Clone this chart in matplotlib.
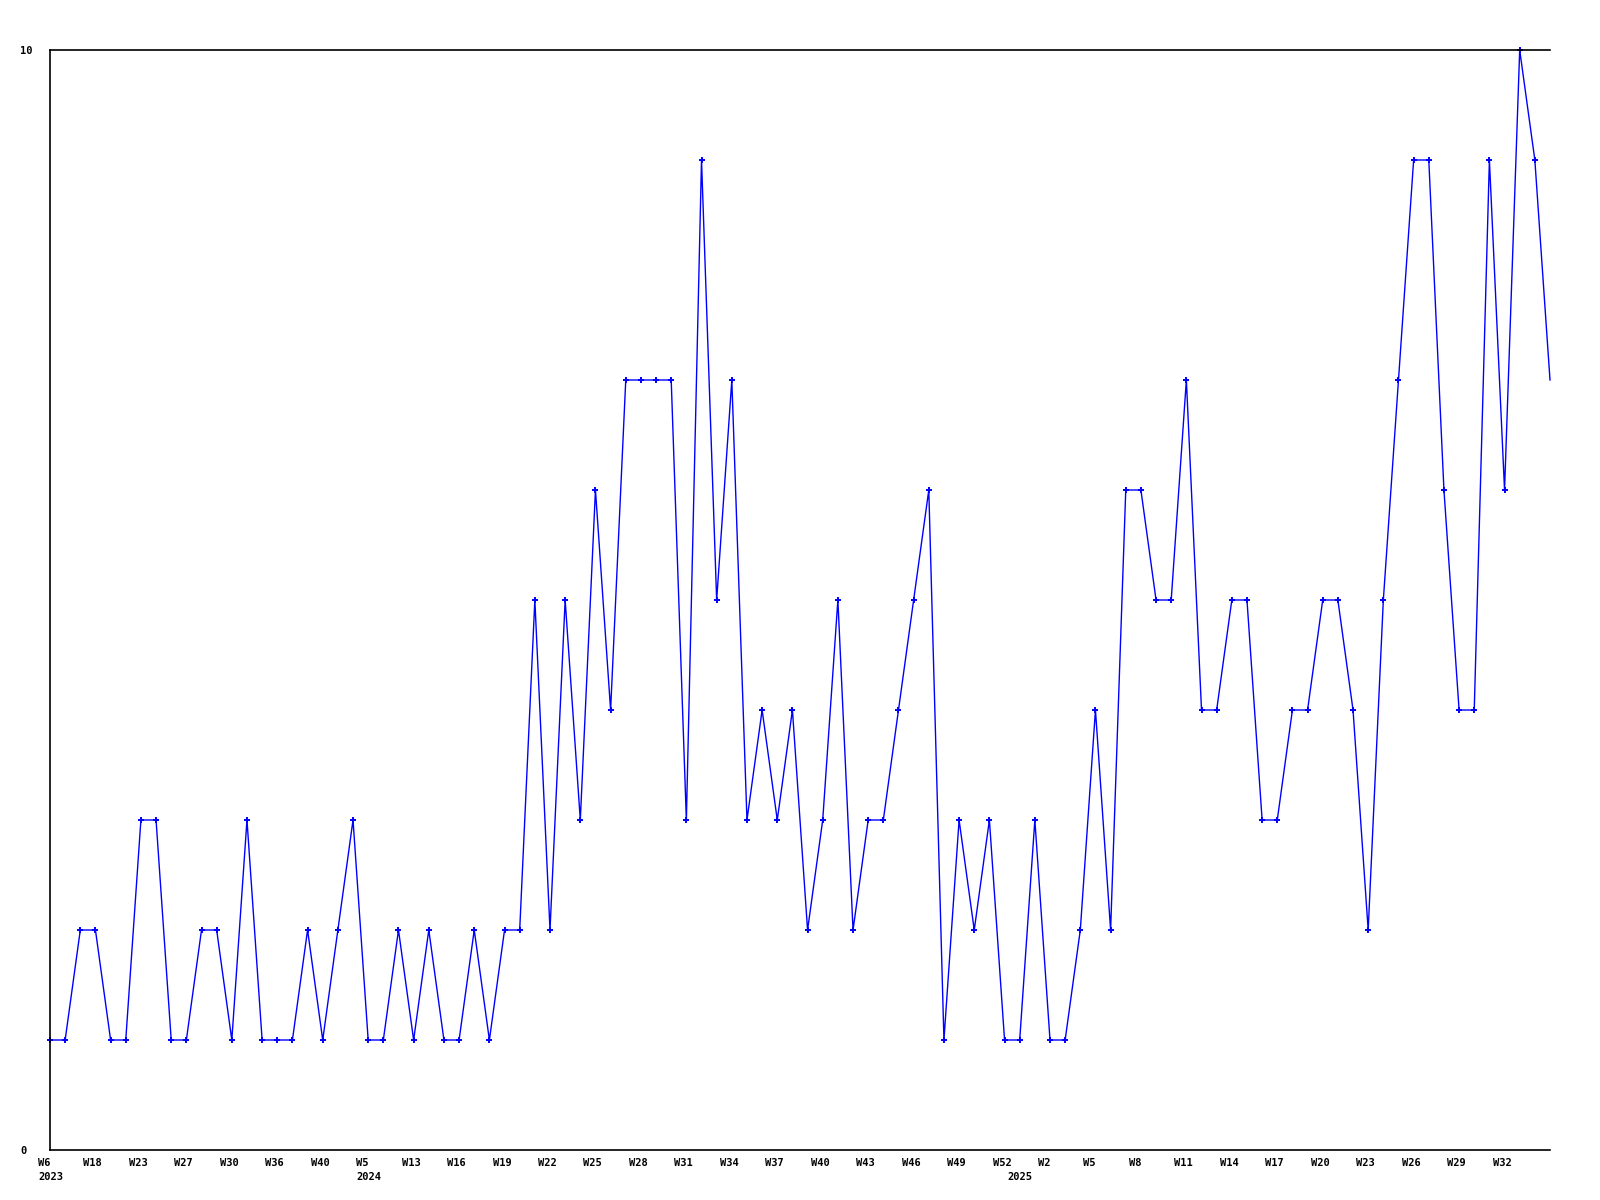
import matplotlib
matplotlib.use("Agg")
import matplotlib.pyplot as plt
from matplotlib.transforms import ScaledTranslation

# weekly counts
values = [1, 1, 2, 2, 1, 1, 3, 3, 1, 1,
          2, 2, 1, 3, 1, 1, 1, 2, 1, 2,
          3, 1, 1, 2, 1, 2, 1, 1, 2, 1,
          2, 2, 5, 2, 5, 3, 6, 4, 7, 7,
          7, 7, 3, 9, 5, 7, 3, 4, 3, 4,
          2, 3, 5, 2, 3, 3, 4, 5, 6, 1,
          3, 2, 3, 1, 1, 3, 1, 1, 2, 4,
          2, 6, 6, 5, 5, 7, 4, 4, 5, 5,
          3, 3, 4, 4, 5, 5, 4, 2, 5, 7,
          9, 9, 6, 4, 4, 9, 6, 10, 9, 7]

# labels shown every third week
week_labels = ["W6\n2023", "W18", "W23", "W27", "W30", "W36", "W40", "W5\n2024",
               "W13", "W16", "W19", "W22", "W25", "W28", "W31", "W34", "W37",
               "W40", "W43", "W46", "W49", "W52", "W2", "W5", "W8", "W11",
               "W14", "W17", "W20", "W23", "W26", "W29", "W32"]
label_step = 3
# 2025 starts at W1, which has no week label of its own
extra_year = "2025"
extra_year_idx = 64

font = dict(family="DejaVu Sans Mono", weight="bold", size=7.5)

fig = plt.figure(figsize=(16, 12), dpi=100)
ax = fig.add_axes([50 / 1600, 50 / 1200, 1500 / 1600, 1100 / 1200])

x = list(range(len(values)))
ax.plot(x, values, color="#0000ff", lw=1.0, marker="+", ms=4, mew=1.4,
        markevery=list(range(len(values) - 1)), clip_on=False)

ax.set_xlim(0, len(values) - 1)
ax.set_ylim(0, 10)

for side in ["left", "top", "bottom"]:
    ax.spines[side].set_linewidth(1.2)
    ax.spines[side].set_color("black")
ax.spines["right"].set_visible(False)

ax.set_yticks([0, 10])
ax.set_yticklabels(["0", "10"], fontdict=font, ha="left")
ax.tick_params(axis="y", length=0, pad=21.6)

ticks = list(range(0, len(values), label_step))[:len(week_labels)]
ax.set_xticks(ticks)
ax.set_xticklabels(week_labels, fontdict=font, ha="left", va="top",
                   linespacing=1.45)
ax.tick_params(axis="x", length=0, pad=6)
shift = ScaledTranslation(-12 / 100, 0, fig.dpi_scale_trans)
for lab in ax.get_xticklabels():
    lab.set_transform(lab.get_transform() + shift)

# year marker that sits off the tick grid
ax.text(extra_year_idx, 0, extra_year, fontdict=font, ha="left", va="top",
        transform=ax.get_xaxis_transform() + shift
        + ScaledTranslation(0, -21.5 / 100, fig.dpi_scale_trans))

fig.savefig("out.png", dpi=100)
